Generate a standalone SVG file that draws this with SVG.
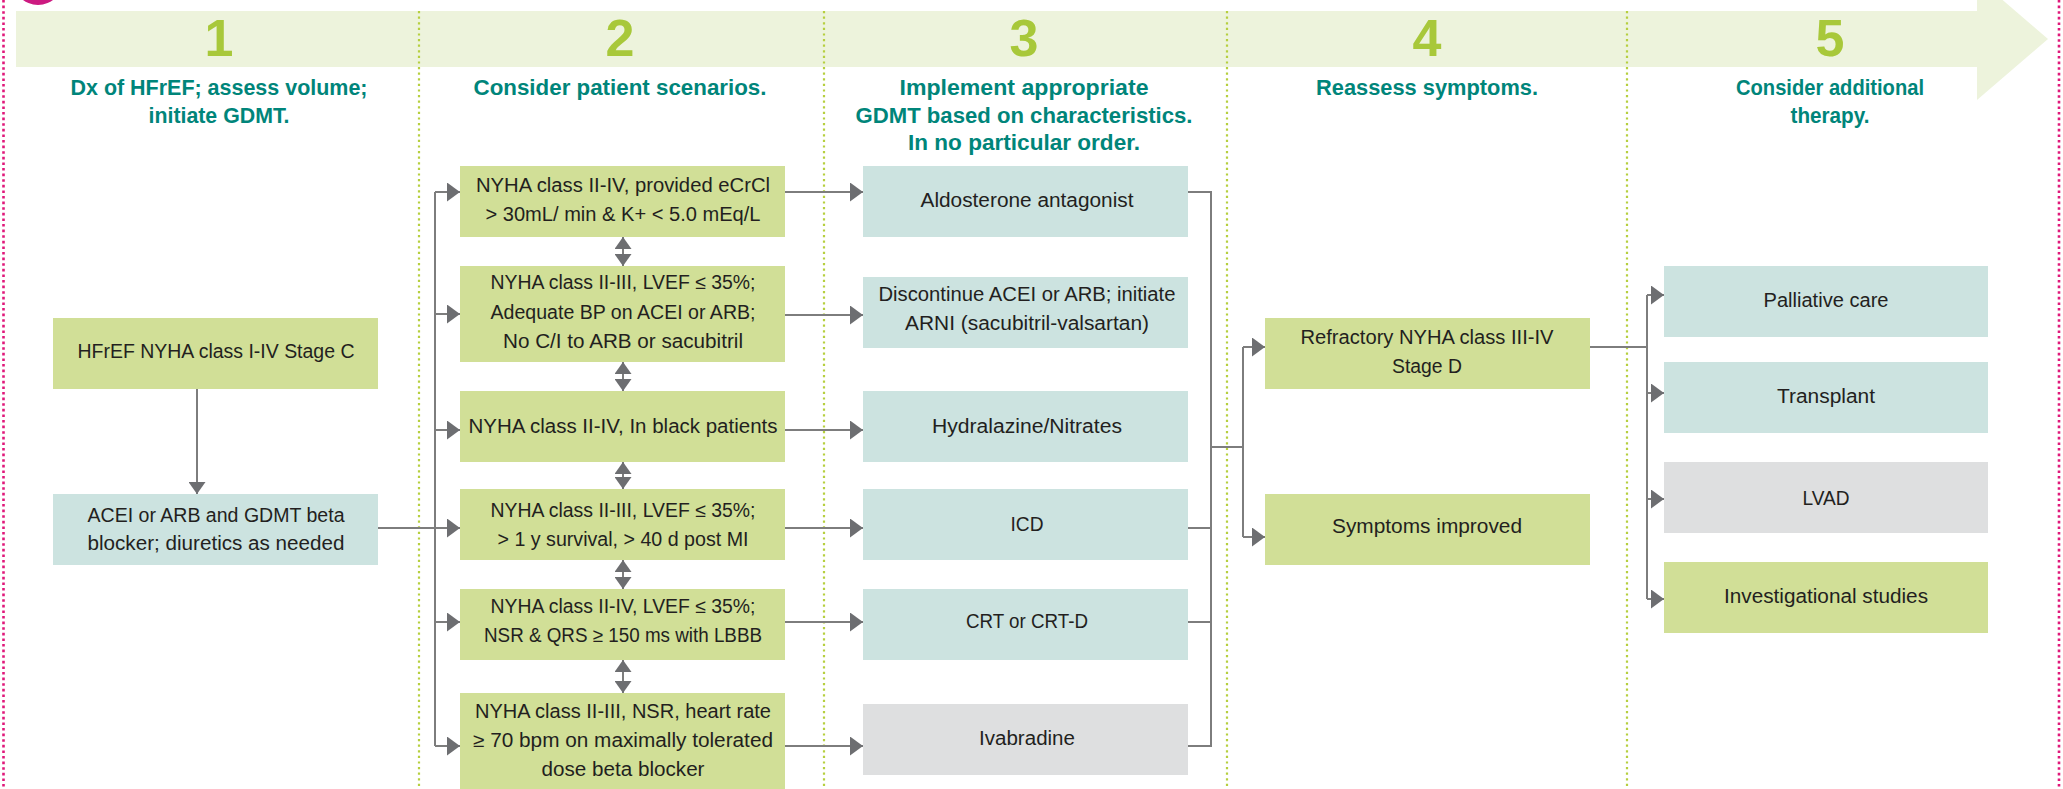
<svg xmlns="http://www.w3.org/2000/svg" width="2063" height="789" viewBox="0 0 2063 789">
<style>
.t{font-family:"Liberation Sans",Arial,sans-serif;font-size:19.5px;fill:#231f20;text-anchor:middle}
.h{font-family:"Liberation Sans",Arial,sans-serif;font-size:21.5px;font-weight:bold;fill:#00857a;text-anchor:middle}
.n{font-family:"Liberation Sans",Arial,sans-serif;font-size:52px;font-weight:bold;fill:#a8c83a;text-anchor:middle}
.g{fill:#d1df97}
.b{fill:#cce3e0}
.y{fill:#dedfe0}
.c{fill:none;stroke:#7d7d7d;stroke-width:2}
.ca{fill:none;stroke:#7d7d7d;stroke-width:2;marker-end:url(#ah)}
.cd{fill:none;stroke:#7d7d7d;stroke-width:2;marker-start:url(#ad);marker-end:url(#ad)}
.dv{stroke:#b6cf3f;stroke-width:2.2;stroke-dasharray:2.2 3.4}
.pk{stroke:#e0187a;stroke-width:2.6;stroke-dasharray:2.6 3}
</style>
<defs>
<marker id="ah" markerUnits="userSpaceOnUse" markerWidth="13" markerHeight="19" refX="13" refY="9.5" orient="auto"><path d="M0,0 L13,9.5 L0,19 z" fill="#6d6e71"/></marker>
<marker id="ad" markerUnits="userSpaceOnUse" markerWidth="12" markerHeight="17" refX="12" refY="8.5" orient="auto-start-reverse"><path d="M0,0 L12,8.5 L0,17 z" fill="#6d6e71"/></marker>
</defs>
<rect width="2063" height="789" fill="#ffffff"/>
<g id="frame">
<line class="pk" x1="3.5" y1="0" x2="3.5" y2="789"/>
<line class="pk" x1="2059" y1="0" x2="2059" y2="789"/>
<circle cx="38" cy="-20" r="25" fill="#cc1a80"/>
</g>
<g id="band">
<rect x="16" y="11" width="1961" height="56" fill="#edf3dc"/>
<polygon points="1977,-22 2048,39 1977,100" fill="#edf3dc"/>
<line class="dv" x1="419" y1="11" x2="419" y2="786"/>
<line class="dv" x1="824" y1="11" x2="824" y2="786"/>
<line class="dv" x1="1227" y1="11" x2="1227" y2="786"/>
<line class="dv" x1="1627" y1="11" x2="1627" y2="786"/>
<text class="n" x="219" y="56">1</text>
<text class="n" x="620" y="56">2</text>
<text class="n" x="1024" y="56">3</text>
<text class="n" x="1427" y="56">4</text>
<text class="n" x="1830" y="56">5</text>
</g>
<g id="headings">
<text class="h" x="219" y="95" textLength="297" lengthAdjust="spacingAndGlyphs">Dx of HFrEF; assess volume;</text>
<text class="h" x="219" y="123" textLength="141" lengthAdjust="spacingAndGlyphs">initiate GDMT.</text>
<text class="h" x="620" y="95" textLength="293" lengthAdjust="spacingAndGlyphs">Consider patient scenarios.</text>
<text class="h" x="1024" y="95" textLength="249" lengthAdjust="spacingAndGlyphs">Implement appropriate</text>
<text class="h" x="1024" y="123" textLength="337" lengthAdjust="spacingAndGlyphs">GDMT based on characteristics.</text>
<text class="h" x="1024" y="150" textLength="232" lengthAdjust="spacingAndGlyphs">In no particular order.</text>
<text class="h" x="1427" y="95" textLength="222" lengthAdjust="spacingAndGlyphs">Reassess symptoms.</text>
<text class="h" x="1830" y="95" textLength="188" lengthAdjust="spacingAndGlyphs">Consider additional</text>
<text class="h" x="1830" y="123" textLength="79" lengthAdjust="spacingAndGlyphs">therapy.</text>
</g>
<g id="connectors">
<line class="ca" x1="197" y1="389" x2="197" y2="494" style="marker-end:url(#ad)"/>
<line class="ca" x1="378" y1="528" x2="460" y2="528"/>
<line class="c" x1="435" y1="192" x2="435" y2="746"/>
<line class="ca" x1="435" y1="192" x2="460" y2="192"/>
<line class="ca" x1="435" y1="314" x2="460" y2="314"/>
<line class="ca" x1="435" y1="430" x2="460" y2="430"/>
<line class="ca" x1="435" y1="622" x2="460" y2="622"/>
<line class="ca" x1="435" y1="746" x2="460" y2="746"/>
<line class="cd" x1="623" y1="237" x2="623" y2="266"/>
<line class="cd" x1="623" y1="362" x2="623" y2="391"/>
<line class="cd" x1="623" y1="462" x2="623" y2="489"/>
<line class="cd" x1="623" y1="560" x2="623" y2="589"/>
<line class="cd" x1="623" y1="660" x2="623" y2="693"/>
<line class="ca" x1="785" y1="192" x2="863" y2="192"/>
<line class="ca" x1="785" y1="315" x2="863" y2="315"/>
<line class="ca" x1="785" y1="430" x2="863" y2="430"/>
<line class="ca" x1="785" y1="528" x2="863" y2="528"/>
<line class="ca" x1="785" y1="622" x2="863" y2="622"/>
<line class="ca" x1="785" y1="746" x2="863" y2="746"/>
<polyline class="c" points="1188,192 1211,192 1211,746 1188,746"/>
<line class="c" x1="1188" y1="528" x2="1211" y2="528"/>
<line class="c" x1="1188" y1="622" x2="1211" y2="622"/>
<line class="c" x1="1211" y1="447" x2="1243" y2="447"/>
<line class="c" x1="1243" y1="347" x2="1243" y2="537"/>
<line class="ca" x1="1243" y1="347" x2="1265" y2="347"/>
<line class="ca" x1="1243" y1="537" x2="1265" y2="537"/>
<line class="c" x1="1590" y1="347" x2="1647" y2="347"/>
<line class="c" x1="1647" y1="295" x2="1647" y2="599"/>
<line class="ca" x1="1647" y1="295" x2="1664" y2="295"/>
<line class="ca" x1="1647" y1="393" x2="1664" y2="393"/>
<line class="ca" x1="1647" y1="499" x2="1664" y2="499"/>
<line class="ca" x1="1647" y1="599" x2="1664" y2="599"/>
</g>
<g id="n1a"><rect class="g" x="53" y="318" width="325" height="71"/><text class="t" x="216" y="358" textLength="277" lengthAdjust="spacingAndGlyphs">HFrEF NYHA class I-IV Stage C</text></g>
<g id="n1b"><rect class="b" x="53" y="494" width="325" height="71"/><text class="t" x="216" y="522" textLength="257" lengthAdjust="spacingAndGlyphs">ACEI or ARB and GDMT beta</text><text class="t" x="216" y="550" textLength="257" lengthAdjust="spacingAndGlyphs">blocker; diuretics as needed</text></g>
<g id="n2a"><rect class="g" x="460" y="166" width="325" height="71"/><text class="t" x="623" y="192" textLength="294" lengthAdjust="spacingAndGlyphs">NYHA class II-IV, provided eCrCl</text><text class="t" x="623" y="221" textLength="275" lengthAdjust="spacingAndGlyphs">&gt; 30mL/ min &amp; K+ &lt; 5.0 mEq/L</text></g>
<g id="n2b"><rect class="g" x="460" y="266" width="325" height="96"/><text class="t" x="623" y="289" textLength="265" lengthAdjust="spacingAndGlyphs">NYHA class II-III, LVEF ≤ 35%;</text><text class="t" x="623" y="319" textLength="265" lengthAdjust="spacingAndGlyphs">Adequate BP on ACEI or ARB;</text><text class="t" x="623" y="348" textLength="240" lengthAdjust="spacingAndGlyphs">No C/I to ARB or sacubitril</text></g>
<g id="n2c"><rect class="g" x="460" y="391" width="325" height="71"/><text class="t" x="623" y="433" textLength="309" lengthAdjust="spacingAndGlyphs">NYHA class II-IV, In black patients</text></g>
<g id="n2d"><rect class="g" x="460" y="489" width="325" height="71"/><text class="t" x="623" y="517" textLength="265" lengthAdjust="spacingAndGlyphs">NYHA class II-III, LVEF ≤ 35%;</text><text class="t" x="623" y="546" textLength="251" lengthAdjust="spacingAndGlyphs">&gt; 1 y survival, &gt; 40 d post MI</text></g>
<g id="n2e"><rect class="g" x="460" y="589" width="325" height="71"/><text class="t" x="623" y="613" textLength="265" lengthAdjust="spacingAndGlyphs">NYHA class II-IV, LVEF ≤ 35%;</text><text class="t" x="623" y="642" textLength="278" lengthAdjust="spacingAndGlyphs">NSR &amp; QRS ≥ 150 ms with LBBB</text></g>
<g id="n2f"><rect class="g" x="460" y="693" width="325" height="96"/><text class="t" x="623" y="718" textLength="296" lengthAdjust="spacingAndGlyphs">NYHA class II-III, NSR, heart rate</text><text class="t" x="623" y="747" textLength="300" lengthAdjust="spacingAndGlyphs">≥ 70 bpm on maximally tolerated</text><text class="t" x="623" y="776" textLength="163" lengthAdjust="spacingAndGlyphs">dose beta blocker</text></g>
<g id="n3a"><rect class="b" x="863" y="166" width="325" height="71"/><text class="t" x="1027" y="207" textLength="213" lengthAdjust="spacingAndGlyphs">Aldosterone antagonist</text></g>
<g id="n3b"><rect class="b" x="863" y="277" width="325" height="71"/><text class="t" x="1027" y="301" textLength="297" lengthAdjust="spacingAndGlyphs">Discontinue ACEI or ARB; initiate</text><text class="t" x="1027" y="330" textLength="244" lengthAdjust="spacingAndGlyphs">ARNI (sacubitril-valsartan)</text></g>
<g id="n3c"><rect class="b" x="863" y="391" width="325" height="71"/><text class="t" x="1027" y="433" textLength="190" lengthAdjust="spacingAndGlyphs">Hydralazine/Nitrates</text></g>
<g id="n3d"><rect class="b" x="863" y="489" width="325" height="71"/><text class="t" x="1027" y="531" textLength="33" lengthAdjust="spacingAndGlyphs">ICD</text></g>
<g id="n3e"><rect class="b" x="863" y="589" width="325" height="71"/><text class="t" x="1027" y="628" textLength="122" lengthAdjust="spacingAndGlyphs">CRT or CRT-D</text></g>
<g id="n3f"><rect class="y" x="863" y="704" width="325" height="71"/><text class="t" x="1027" y="745" textLength="96" lengthAdjust="spacingAndGlyphs">Ivabradine</text></g>
<g id="n4a"><rect class="g" x="1265" y="318" width="325" height="71"/><text class="t" x="1427" y="344" textLength="253" lengthAdjust="spacingAndGlyphs">Refractory NYHA class III-IV</text><text class="t" x="1427" y="373" textLength="70" lengthAdjust="spacingAndGlyphs">Stage D</text></g>
<g id="n4b"><rect class="g" x="1265" y="494" width="325" height="71"/><text class="t" x="1427" y="533" textLength="190" lengthAdjust="spacingAndGlyphs">Symptoms improved</text></g>
<g id="n5a"><rect class="b" x="1664" y="266" width="324" height="71"/><text class="t" x="1826" y="307" textLength="125" lengthAdjust="spacingAndGlyphs">Palliative care</text></g>
<g id="n5b"><rect class="b" x="1664" y="362" width="324" height="71"/><text class="t" x="1826" y="403" textLength="98" lengthAdjust="spacingAndGlyphs">Transplant</text></g>
<g id="n5c"><rect class="y" x="1664" y="462" width="324" height="71"/><text class="t" x="1826" y="505" textLength="47" lengthAdjust="spacingAndGlyphs">LVAD</text></g>
<g id="n5d"><rect class="g" x="1664" y="562" width="324" height="71"/><text class="t" x="1826" y="603" textLength="204" lengthAdjust="spacingAndGlyphs">Investigational studies</text></g>
</svg>
